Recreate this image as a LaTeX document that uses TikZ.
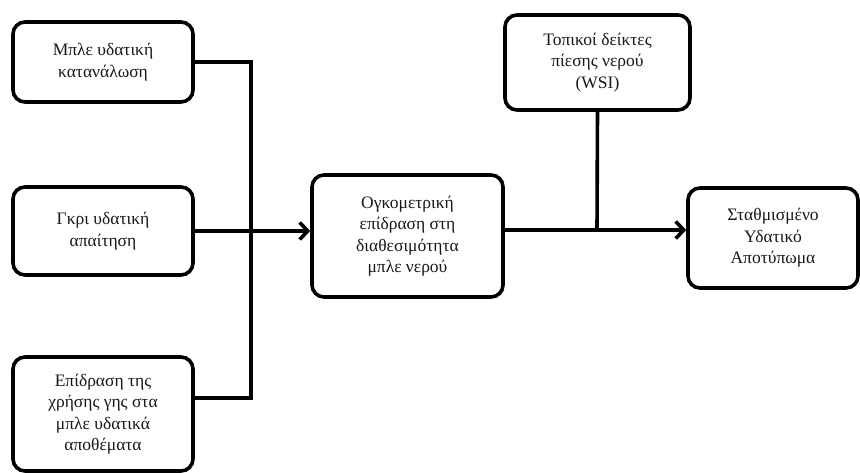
\documentclass[tikz,border=0pt]{standalone}
\usepackage{fontspec}
\setmainfont{Liberation Serif}
\usetikzlibrary{arrows.meta}
\tikzset{
  box/.style={draw=black, line width=3.6pt, rounded corners=12pt, fill=white,
    align=center, inner sep=2pt, text=black!90,
    font=\fontsize{17.5}{21.5}\selectfont},
  link/.style={draw=black, line width=3.6pt},
  arrowlink/.style={link, -{Straight Barb[length=8pt,width=17pt,line width=3.6pt]}}
}
\begin{document}
\begin{tikzpicture}[x=1pt,y=-1pt]
  \useasboundingbox (0,0) rectangle (860,473);
  % input boxes on the left
  \node[box, minimum width=180pt, minimum height=80pt] (blue) at (103,62)
    {Μπλε υδατική\\κατανάλωση};
  \node[box, minimum width=180pt, minimum height=88pt] (grey) at (103,231)
    {Γκρι υδατική\\απαίτηση};
  \node[box, minimum width=180pt, minimum height=114pt] (land) at (103,414)
    {Επίδραση της\\χρήσης γης στα\\μπλε υδατικά\\αποθέματα};
  % central and right-hand boxes
  \node[box, minimum width=191pt, minimum height=122pt] (vol) at (407.5,236)
    {Ογκομετρική\\επίδραση στη\\διαθεσιμότητα\\μπλε νερού};
  \node[box, minimum width=185pt, minimum height=95pt] (wsi) at (597.5,62.5)
    {Τοπικοί δείκτες\\πίεσης νερού\\(WSI)};
  \node[box, minimum width=170pt, minimum height=100pt] (foot) at (773,238)
    {Σταθμισμένο\\Υδατικό\\Αποτύπωμα};
  % junction points
  \coordinate (bus) at (251,231);
  \coordinate (j) at (597,230);
  % left collector bus
  \draw[link] (blue.east) -| (bus);
  \draw[link] ([yshift=16pt]land.east) -| (bus);
  \draw[arrowlink] (grey.east) -- (grey.east -| vol.west);
  % weighting by the stress index
  \draw[link] (wsi.south) -- (j);
  \draw[arrowlink] (vol.east |- j) -- (foot.west |- j);
\end{tikzpicture}
\end{document}
